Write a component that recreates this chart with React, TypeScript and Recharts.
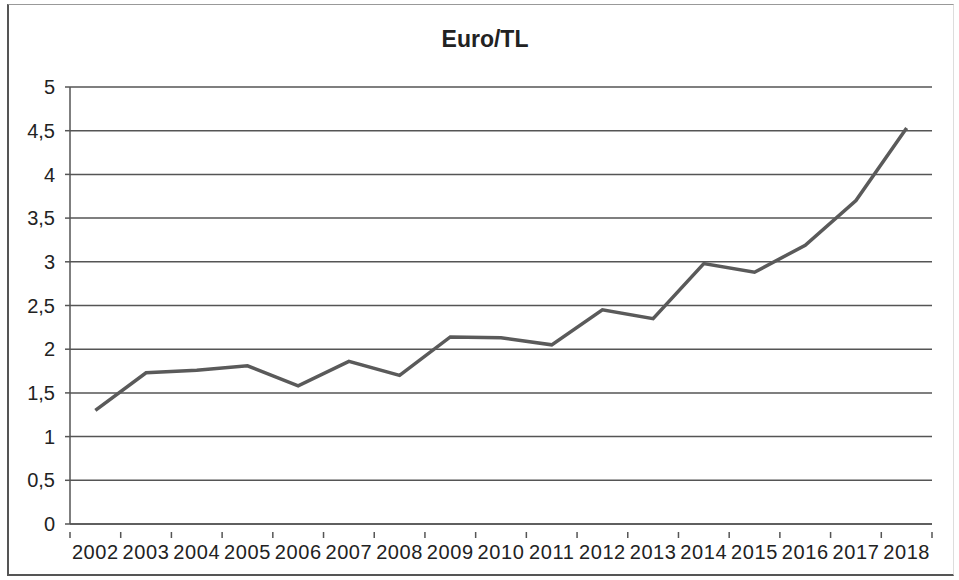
import { LineChart, Line, XAxis, YAxis, CartesianGrid } from "recharts";

// Euro/TL yearly rate
const years = [
  "2002", "2003", "2004", "2005", "2006", "2007", "2008", "2009", "2010",
  "2011", "2012", "2013", "2014", "2015", "2016", "2017", "2018",
];
const euroTl = [
  1.3, 1.73, 1.76, 1.81, 1.58, 1.86, 1.7, 2.14, 2.13,
  2.05, 2.45, 2.35, 2.98, 2.88, 3.19, 3.7, 4.53,
];
const yTicks = [0, 0.5, 1, 1.5, 2, 2.5, 3, 3.5, 4, 4.5, 5];

const data = years.map((year, i) => ({ year, value: euroTl[i] }));

const W = 959;
const H = 580;
const PLOT_LEFT = 70;
const PLOT_RIGHT = 932;
const HALF_BAND = (PLOT_RIGHT - PLOT_LEFT) / years.length / 2;
const FONT = '"Liberation Sans", Arial, sans-serif';
const INK = "#222";
const GRID = "#555";

const fmt = (v: number) => String(v).replace(".", ",");

// Excel-style: labels centred in the category, tick marks on the boundaries
function YearTick(props: any) {
  const { x, y, payload, index } = props;
  return (
    <g>
      {index === 0 && (
        <line x1={x - HALF_BAND} y1={y} x2={x - HALF_BAND} y2={y + 6} stroke={GRID} strokeWidth={1.5} />
      )}
      <line x1={x + HALF_BAND} y1={y} x2={x + HALF_BAND} y2={y + 6} stroke={GRID} strokeWidth={1.5} />
      <text
        x={x}
        y={y + 27}
        textAnchor="middle"
        fill={INK}
        fontSize={20}
        fontFamily={FONT}
        letterSpacing={0.6}
      >
        {payload.value}
      </text>
    </g>
  );
}

export default function App() {
  return (
    <div
      style={{
        position: "absolute",
        left: 0,
        top: 0,
        width: W,
        height: H,
        background: "#fff",
        fontFamily: FONT,
      }}
    >
      <div
        style={{
          position: "absolute",
          left: 7,
          top: 4,
          width: 947,
          height: 572,
          borderLeft: "2px solid #555",
          borderBottom: "2px solid #555",
          borderTop: "1px solid #999",
          borderRight: "1px solid #ddd",
          boxSizing: "border-box",
        }}
      />
      <div
        style={{
          position: "absolute",
          left: 385,
          width: 200,
          top: 26,
          textAlign: "center",
          fontWeight: "bold",
          fontSize: 23,
          color: INK,
        }}
      >
        Euro/TL
      </div>
      <div style={{ position: "absolute", left: 0, top: 0 }}>
        <LineChart
          width={W}
          height={H}
          data={data}
          margin={{ top: 87, right: W - PLOT_RIGHT, bottom: 26, left: 0 }}
        >
          <CartesianGrid vertical={false} stroke={GRID} strokeWidth={1.5} />
          <XAxis
            dataKey="year"
            type="category"
            height={30}
            padding={{ left: HALF_BAND, right: HALF_BAND }}
            axisLine={{ stroke: GRID, strokeWidth: 1.5 }}
            tickLine={false}
            interval={0}
            tick={<YearTick />}
          />
          <YAxis
            type="number"
            domain={[0, 5]}
            ticks={yTicks}
            width={PLOT_LEFT}
            tickSize={5}
            tickMargin={10}
            tickFormatter={fmt}
            axisLine={{ stroke: GRID, strokeWidth: 1.5 }}
            tickLine={{ stroke: GRID, strokeWidth: 1.5 }}
            tick={{ fill: INK, fontSize: 20, fontFamily: FONT }}
          />
          <Line
            type="linear"
            dataKey="value"
            stroke="#5a5a5a"
            strokeWidth={3.5}
            dot={false}
            isAnimationActive={false}
          />
        </LineChart>
      </div>
    </div>
  );
}
